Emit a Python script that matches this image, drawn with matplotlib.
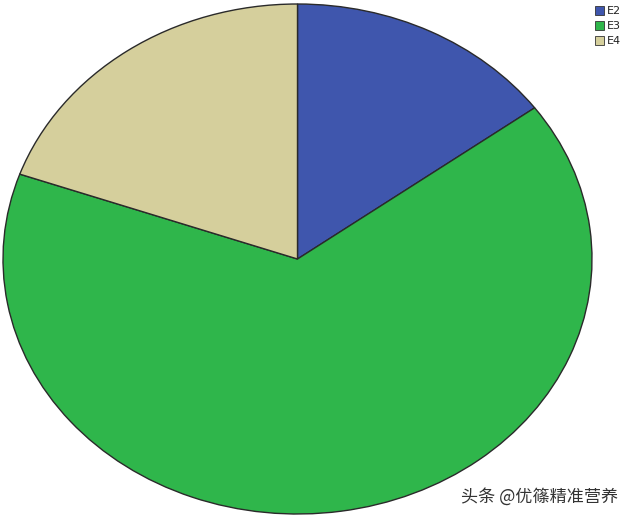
import matplotlib
matplotlib.use("Agg")
import matplotlib.pyplot as plt
from matplotlib.patches import Patch

# Data
labels = ["E2", "E3", "E4"]
shares = [14.9, 65.5, 19.6]
colors = ["#3f56ad", "#2fb64b", "#d5cf9c"]

W, H = 630, 518
fig = plt.figure(figsize=(W / 100, H / 100), dpi=100)

# axes sized to the ellipse's bounding box (pixels)
left, right, top, bottom = 3, 592, 4, 514
ax = fig.add_axes([left / W, (H - bottom) / H, (right - left) / W, (bottom - top) / H])
ax.pie(shares, colors=colors, startangle=90, counterclock=False,
       wedgeprops=dict(edgecolor="#2a2a2a", linewidth=1.0))
ax.set_aspect("auto")
ax.set_xlim(-1, 1)
ax.set_ylim(-1, 1)
ax.axis("off")

handles = [Patch(facecolor=c, edgecolor="#333333", linewidth=0.6) for c in colors]
leg = fig.legend(handles, labels, loc="upper left", bbox_to_anchor=(595 / W, 1 - 6 / H),
                 frameon=False, fontsize=8, handlelength=0.8, handleheight=0.9,
                 handletextpad=0.25, labelspacing=0.4, borderaxespad=0, borderpad=0)
for t in leg.get_texts():
    t.set_color("#222222")

fig.text(461 / W, 1 - 497 / H, "头条 @优篠精准营养", fontsize=12.3, color="#333333",
         va="center", ha="left", family=["Noto Sans CJK SC", "DejaVu Sans"])

fig.savefig("out.png", dpi=100)
